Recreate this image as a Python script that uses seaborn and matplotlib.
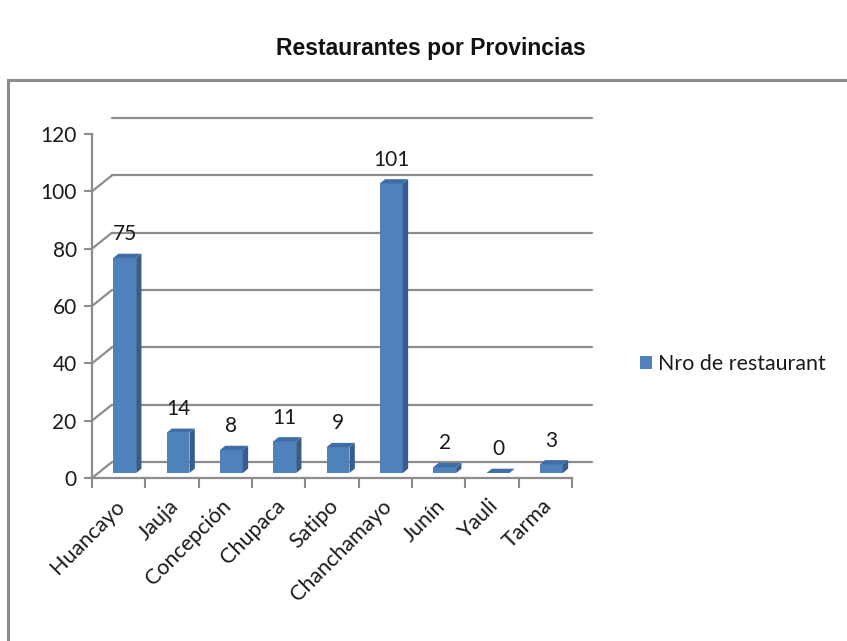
import matplotlib
matplotlib.use("Agg")
import matplotlib.pyplot as plt
import matplotlib.transforms as mtransforms
from matplotlib.patches import Polygon, Rectangle
import seaborn as sns
import pandas as pd

provincias = ["Huancayo", "Jauja", "Concepción", "Chupaca", "Satipo",
              "Chanchamayo", "Junín", "Yauli", "Tarma"]
restaurantes = [75, 14, 8, 11, 9, 101, 2, 0, 3]
serie = "Nro de restaurant"
titulo = "Restaurantes por Provincias"
yticks = [0, 20, 40, 60, 80, 100, 120]

sns.set_style("white")
plt.rcParams["font.family"] = ["Lato", "DejaVu Sans"]

W, H = 847, 641
fig = plt.figure(figsize=(W / 100, H / 100), dpi=100)

# chart border
fig.add_artist(Rectangle((8 / W, -0.05), 1.0, (H - 80) / H + 0.05, transform=fig.transFigure,
                         fill=False, edgecolor="#8c8c8c", linewidth=2.2))

fig.text(431 / W, 1 - 49 / H, titulo, ha="center", va="center", fontsize=16.5,
         fontweight="bold", family="Liberation Sans", color="#111111")

x0, x1, y0, y1 = 92, 572, 478, 134
ax = fig.add_axes([x0 / W, (H - y0) / H, (x1 - x0) / W, (y0 - y1) / H])
df = pd.DataFrame({"Provincia": provincias, "Valor": restaurantes})
sns.barplot(data=df, x="Provincia", y="Valor", ax=ax, color="#4f81bd",
            saturation=1, width=0.43, edgecolor="none")
ax.set_xlim(-0.5, len(provincias) - 0.5)
ax.set_ylim(0, 120)
ax.set_xlabel("")
ax.set_ylabel("")

grid_c = "#8c8c8c"
def off(dx, dy):
    return ax.transData + mtransforms.ScaledTranslation(dx / 100, dy / 100, fig.dpi_scale_trans)

BX, BY = 20, 16
back = off(BX, BY)
mid = off(6, 5)

# back wall gridlines and left wall diagonals
n = len(provincias)
for v in yticks:
    ax.plot([-0.5, n - 0.5], [v, v], transform=back, color=grid_c, lw=1.6, clip_on=False, zorder=0)
    p0 = ax.transData.transform((-0.5, v))
    ax.add_line(plt.Line2D([p0[0], p0[0] + BX], [p0[1], p0[1] + BY],
                           transform=None, color=grid_c, lw=1.6, zorder=0))
# floor right edge
px = ax.transData.transform((n - 0.5, 0))
ax.add_line(plt.Line2D([px[0], px[0] + BX], [px[1], px[1] + BY], transform=None,
                       color=grid_c, lw=1.6, zorder=0))

# 3D-ish bars
ddx, ddy = 0.1, 1.5
for p, v in zip(ax.patches, restaurantes):
    p.set_transform(mid)
    p.set_clip_on(False)
    p.set_zorder(3)
    xb, w, h = p.get_x(), p.get_width(), p.get_height()
    side = Polygon([(xb + w, 0), (xb + w + ddx, ddy), (xb + w + ddx, h + ddy), (xb + w, h)],
                   closed=True, facecolor="#385d8a", edgecolor="none", transform=mid,
                   clip_on=False, zorder=3)
    top = Polygon([(xb, h), (xb + w, h), (xb + w + ddx, h + ddy), (xb + ddx, h + ddy)],
                  closed=True, facecolor="#3f6ea6", edgecolor="none", transform=mid,
                  clip_on=False, zorder=3)
    ax.add_patch(side)
    ax.add_patch(top)
    ax.annotate(str(v), (xb + w / 2, h), xytext=(0, 10), textcoords="offset points",
                xycoords=mid, ha="center", va="bottom", fontsize=15, color="#1a1a1a",
                annotation_clip=False)

for s in ["top", "right"]:
    ax.spines[s].set_visible(False)
for s in ["left", "bottom"]:
    ax.spines[s].set_color(grid_c)
    ax.spines[s].set_linewidth(1.6)

ax.set_yticks(yticks)
ax.set_xticks(range(n))
ax.set_xticks([i - 0.5 for i in range(n + 1)], minor=True)
ax.tick_params(axis="y", which="major", direction="out", length=6, width=1.5, color=grid_c,
               labelsize=15, pad=5, left=True, labelcolor="#1a1a1a")
ax.tick_params(axis="x", which="major", length=0, labelsize=15.5, pad=18, labelcolor="#1a1a1a")
ax.tick_params(axis="x", which="minor", direction="out", length=7, width=1.5, color=grid_c, bottom=True)
for lab in ax.get_xticklabels():
    lab.set_rotation(45)
    lab.set_ha("right")
    lab.set_va("center")
    lab.set_rotation_mode("anchor")
    lab.set_transform(lab.get_transform() + mtransforms.ScaledTranslation(0.03, 0, fig.dpi_scale_trans))

handle = Rectangle((0, 0), 1, 1, facecolor="#4f81bd", edgecolor="none")
fig.legend([handle], [serie], loc="center left", bbox_to_anchor=(621 / W, 1 - 364 / H),
           frameon=False, fontsize=15.4, handlelength=0.55, handleheight=0.55, handletextpad=0.3,
           labelcolor="#1a1a1a")

fig.savefig("out.png", dpi=100)
